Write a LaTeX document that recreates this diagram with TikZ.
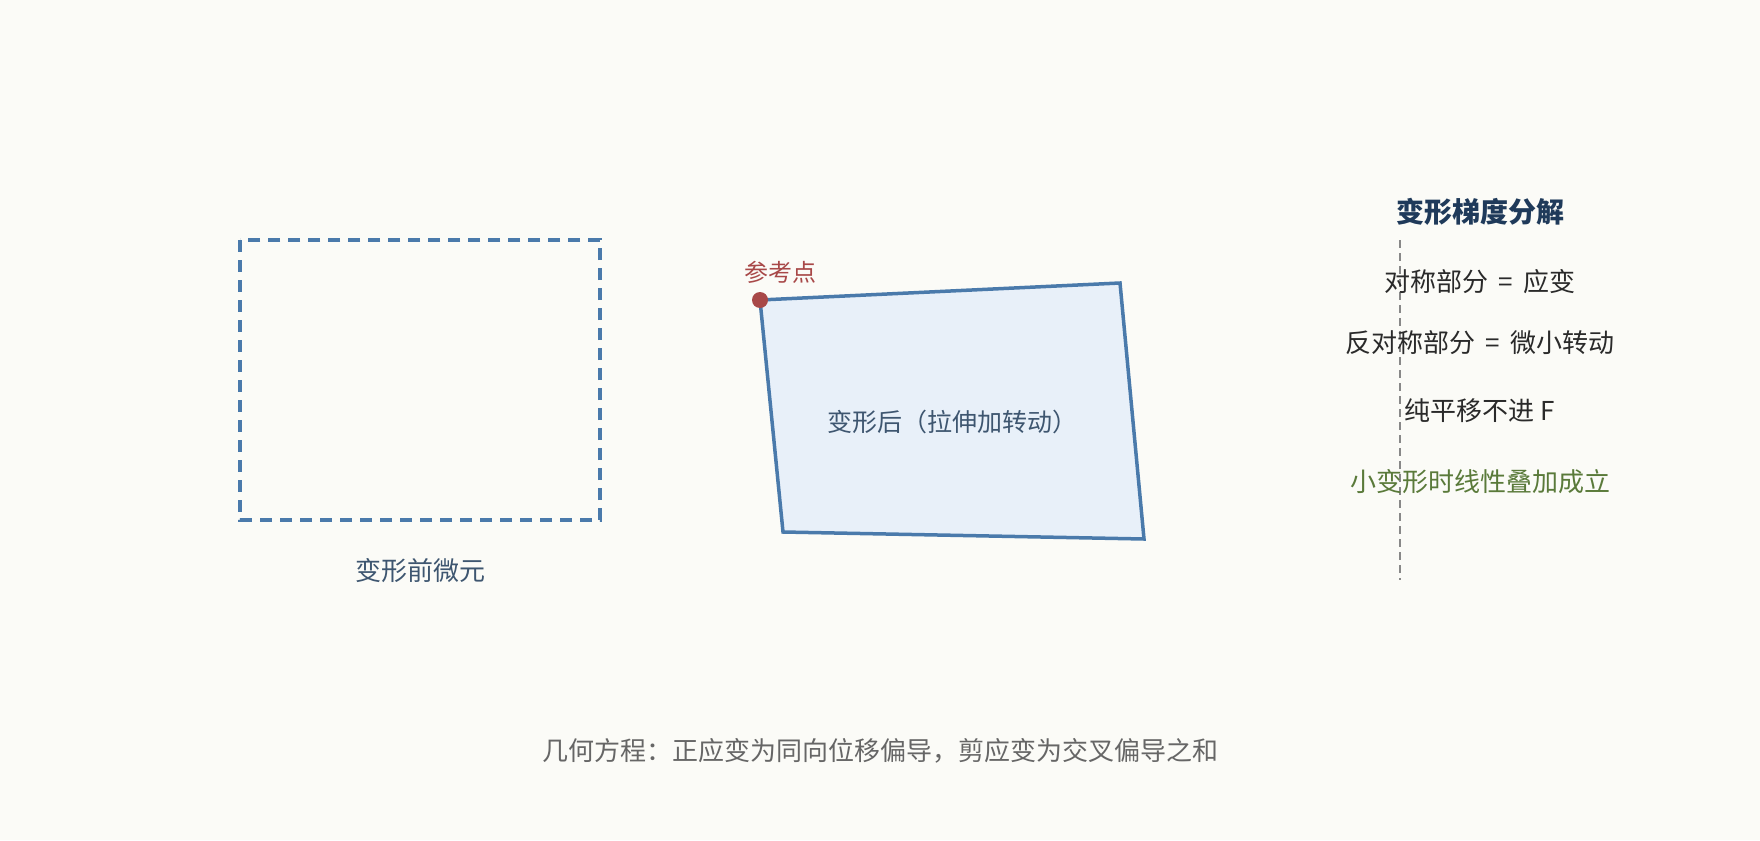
\documentclass[tikz,border=0pt]{standalone}
\usepackage{fontspec}
\setmainfont{Noto Sans CJK SC}
\definecolor{bgcol}{HTML}{FBFBF7}
\definecolor{bluestroke}{HTML}{4A7AAB}
\definecolor{bluefill}{HTML}{E8F0F9}
\definecolor{refred}{HTML}{A84848}
\definecolor{labelcol}{HTML}{3E5670}
\definecolor{titlecol}{HTML}{1F3A5A}
\definecolor{bodycol}{HTML}{2A2A2A}
\definecolor{greencol}{HTML}{5A7A3A}
\definecolor{graycol}{HTML}{666666}
\definecolor{dashgray}{HTML}{888888}
\newcommand{\eqsp}{\hspace{10pt}=\hspace{10pt}}
\tikzset{
  labeltext/.style={text=labelcol, inner sep=0pt, font=\fontsize{26}{30}\selectfont},
  listtext/.style={text=bodycol, inner sep=0pt, font=\fontsize{26}{30}\selectfont},
  titletext/.style={text=titlecol, inner sep=0pt, font=\fontsize{28}{32}\selectfont\bfseries},
  origbox/.style={draw=bluestroke, line width=3.5pt, dash pattern=on 12pt off 8pt},
  defbox/.style={draw=bluestroke, fill=bluefill, line width=3.5pt, line join=miter},
  sepline/.style={draw=dashgray, line width=2pt, dash pattern=on 8pt off 5pt}
}
\begin{document}
\begin{tikzpicture}[x=1pt,y=-1pt]
\fill[bgcol] (0,0) rectangle (1760,840);
\useasboundingbox (0,0) rectangle (1760,840);

% undeformed element
\draw[origbox] (240,240) rectangle (600,520);
\node[labeltext] (origlabel) at (420,571) {变形前微元};

% deformed element
\coordinate (qa) at (760,300);
\coordinate (qb) at (1120,283);
\coordinate (qc) at (1144,539);
\coordinate (qd) at (783,532);
\draw[defbox] (qa) -- (qb) -- (qc) -- (qd) -- cycle;
\node[labeltext, font=\fontsize{25}{29}\selectfont] (deflabel) at (952,422) {变形后（拉伸加转动）};
\fill[refred] (qa) circle (8);
\node[text=refred, inner sep=0pt, font=\fontsize{24}{28}\selectfont] (reflabel) at (780,272) {参考点};

% right panel
\node[titletext] (title) at (1480,212) {变形梯度分解};
\coordinate (sepTop) at (1400,240);
\coordinate (sepBot) at (1400,580);
\draw[sepline] (sepTop) -- (sepBot);
\node[listtext] (l1) at (1480,282) {对称部分\eqsp 应变};
\node[listtext] (l2) at (1480,343) {反对称部分\eqsp 微小转动};
\node[listtext] (l3) at (1480,411) {纯平移不进 F};
\node[listtext, text=greencol] (l4) at (1480,482) {小变形时线性叠加成立};

% bottom caption
\node[text=graycol, inner sep=0pt, font=\fontsize{26}{30}\selectfont] (caption) at (880,751) {几何方程：正应变为同向位移偏导，剪应变为交叉偏导之和};
\end{tikzpicture}
\end{document}
